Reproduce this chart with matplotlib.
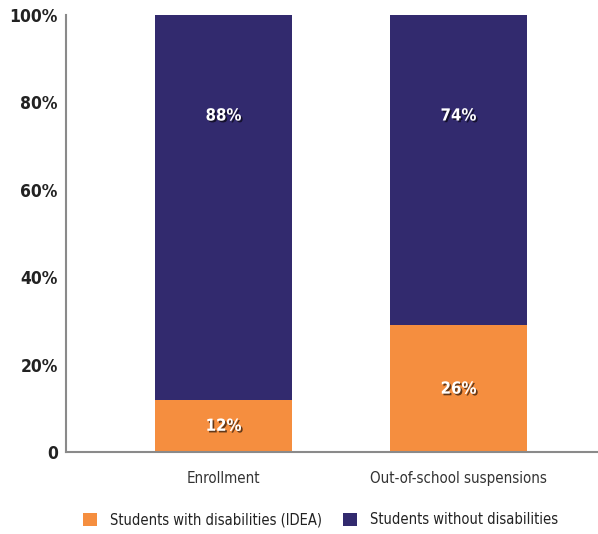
import matplotlib
matplotlib.use("Agg")
import matplotlib.pyplot as plt
import matplotlib.patheffects as pe
from matplotlib.patches import Patch

categories = ["Enrollment", "Out-of-school suspensions"]
with_disab = [12, 29]          # drawn heights
without_disab = [88, 71]
with_labels = ["12%", "26%"]
without_labels = ["88%", "74%"]
series_names = ["Students with disabilities (IDEA)", "Students without disabilities"]
yticks = [0, 20, 40, 60, 80, 100]
ytick_labels = ["0", "20%", "40%", "60%", "80%", "100%"]

plt.rcParams["font.family"] = ["DejaVu Sans"]
plt.rcParams["font.stretch"] = "condensed"

orange = "#F58E3F"
navy = "#322A6E"

fig = plt.figure(figsize=(5.98, 5.34), dpi=100)
ax = fig.add_axes([66/598, 1-452/534, 1-66/598, (452-15)/534])

x = list(range(len(categories)))
w = 0.583
ax.bar(x, with_disab, width=w, color=orange, zorder=2)
ax.bar(x, without_disab, width=w, bottom=with_disab, color=navy, zorder=2)

shadow = [pe.SimplePatchShadow(offset=(1.2, -1.2), alpha=0.6, shadow_rgbFace="black"), pe.Normal()]
for i in x:
    ax.text(i, with_disab[i] / 2, with_labels[i], ha="center", va="center",
            color="white", fontsize=12, fontweight="bold", fontstretch="condensed",
            path_effects=shadow, zorder=3)
    ax.text(i, 77, without_labels[i], ha="center", va="center",
            color="white", fontsize=12, fontweight="bold", fontstretch="condensed",
            path_effects=shadow, zorder=3)

ax.set_xlim(-0.67, 1.594)
ax.set_ylim(0, 100)
ax.set_yticks(yticks)
ax.set_yticklabels(ytick_labels, fontsize=12.5, fontweight="bold", color="#222222",
                   fontstretch="condensed")
ax.set_xticks(x)
ax.set_xticklabels(categories, fontsize=10.8, color="#333333", fontstretch="condensed")
ax.tick_params(axis="both", length=0)
ax.tick_params(axis="y", pad=6)
ax.tick_params(axis="x", pad=14)
for s in ["top", "right"]:
    ax.spines[s].set_visible(False)
for s in ["left", "bottom"]:
    ax.spines[s].set_color("#8a8a8a")
    ax.spines[s].set_linewidth(1.5)

handles = [Patch(facecolor=orange), Patch(facecolor=navy)]
fig.legend(handles, series_names, loc="center", bbox_to_anchor=(0.536, 1-520/534),
           ncol=2, frameon=False, prop={"size": 10.5, "stretch": "condensed"},
           handlelength=1.0, handleheight=1.0,
           columnspacing=1.4, handletextpad=0.9, labelcolor="#222222")

fig.savefig("out.png", dpi=100)
